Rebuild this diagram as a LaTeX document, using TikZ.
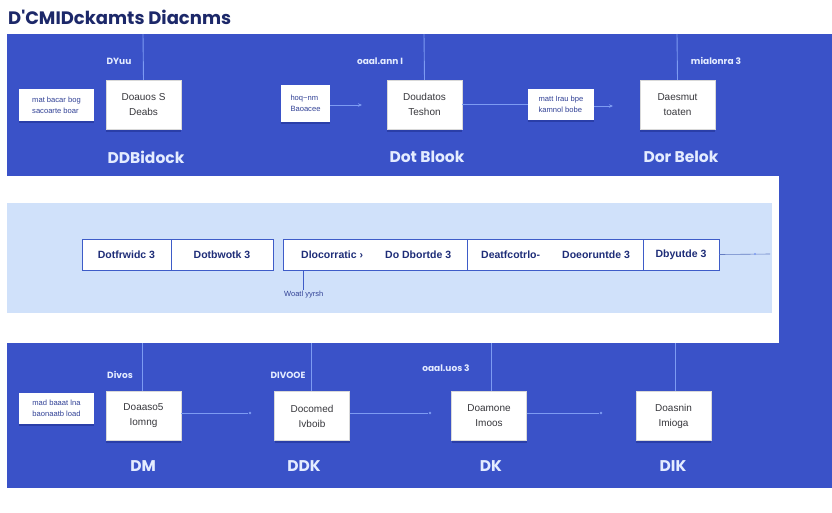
\documentclass[tikz,border=0pt]{standalone}
\usepackage{fontspec}
\setmainfont{Liberation Sans}
\newfontfamily\pop{Poppins}
\usetikzlibrary{arrows.meta}
\definecolor{bandblue}{RGB}{58,82,200}
\definecolor{shadowblue}{RGB}{42,62,168}
\definecolor{lightband}{RGB}{208,225,250}
\definecolor{titlecol}{RGB}{28,40,105}
\definecolor{linecol}{RGB}{125,155,242}
\definecolor{cellborder}{RGB}{62,92,200}
\definecolor{celltext}{RGB}{30,45,120}
\definecolor{labcol}{RGB}{228,236,255}
\definecolor{boxtext}{RGB}{55,55,60}
\definecolor{smalltext}{RGB}{50,66,150}
\tikzset{
  bigbox/.style={fill=white, draw=white!85!black, line width=0.3pt, minimum width=75pt, minimum height=49pt,
    inner sep=1pt, align=center, font=\fontsize{10}{13}\selectfont, text=boxtext,
    preaction={fill=shadowblue, transform canvas={yshift=-2.5pt}}},
  notebox/.style={fill=white, minimum height=31pt, inner sep=2pt, align=left,
    font=\fontsize{7.6}{11}\selectfont, text=smalltext,
    preaction={fill=shadowblue, transform canvas={yshift=-2pt}}},
  blocklab/.style={font=\pop\bfseries\fontsize{15.5}{18}\selectfont, text=labcol},
  toplab/.style={font=\pop\bfseries\fontsize{9}{11}\selectfont, text=labcol},
  conn/.style={draw=linecol, line width=0.9pt},
  cell/.style={draw=cellborder, line width=0.9pt, fill=white, minimum height=31pt, inner sep=0pt,
    font=\bfseries\fontsize{10.5}{12}\selectfont, text=celltext},
  celltxt/.style={inner sep=0pt, anchor=west, font=\bfseries\fontsize{10.5}{12}\selectfont, text=celltext},
  enddot/.style={circle, fill=linecol, inner sep=0pt, minimum size=2.8pt}
}
\begin{document}
\begin{tikzpicture}[x=1pt,y=-1pt]
\useasboundingbox (0,0) rectangle (832,512);
\fill[white] (0,0) rectangle (832,512);
% backgrounds
\fill[bandblue] (7,34) rectangle (832,488);
\fill[white] (7,176) rectangle (779,343);
\fill[lightband] (7,203) rectangle (772,313);
% title
\node[anchor=west, font=\pop\bfseries\fontsize{18}{21}\selectfont, text=titlecol, inner sep=0pt] (title) at (8,17) {D'CMIDckamts Diacnms};

% ---------- top band ----------
\node[notebox, minimum width=75pt, minimum height=32pt] (tn1) at (56.5,105) {mat bacar bog\\sacoarte boar};
\node[bigbox] (tb1) at (143.5,104.5) {Doauos S\\[2pt]Deabs};
\node[notebox, minimum width=49pt, minimum height=37pt] (tn2) at (305.5,103.5) {hoq\textasciitilde nm\\Baoacee};
\node[bigbox] (tb2) at (424.5,104.5) {Doudatos\\[2pt]Teshon};
\node[notebox, minimum width=66pt, minimum height=31pt] (tn3) at (561,104.5) {matt Irau bpe\\kamnol bobe};
\node[bigbox] (tb3) at (677.5,104.5) {Daesmut\\[2pt]toaten};

\coordinate (tt1) at (143,34);
\coordinate (tt2) at (424,34);
\coordinate (tt3) at (677,34);
\draw[conn] (tt1) -- (tb1.north);
\draw[conn] (tt2) -- (tb2.north);
\draw[conn] (tt3) -- (tb3.north);

\coordinate (ta1) at (362,105);
\coordinate (ta3) at (613,106);
\draw[conn, -{Stealth[length=4pt,width=3.5pt]}] (tn2.east |- ta1) -- (ta1);
\draw[conn] (tb2.east) -- (tn3.west);
\draw[conn, -{Stealth[length=4pt,width=3.5pt]}] (tn3.east |- ta3) -- (ta3);

\node[toplab] (tl1) at (119,61) {DYuu};
\node[toplab] (tl2) at (380,61) {oaal.ann I};
\node[toplab] (tl3) at (716,61) {mialonra 3};

\node[blocklab] (bl1) at (146,157) {DDBidock};
\node[blocklab] (bl2) at (427,157) {Dot Blook};
\node[blocklab] (bl3) at (681,157) {Dor Belok};

% ---------- middle band ----------
\node[cell, minimum width=89pt] (c1) at (126.5,254.5) {Dotfrwidc 3};
\node[cell, minimum width=102pt] (c2) at (222,254.5) {Dotbwotk 3};
\node[cell, minimum width=184pt] (c3) at (375,254.5) {};
\node[cell, minimum width=176pt] (c4) at (555,254.5) {};
\node[cell, minimum width=76pt] (c5) at (681,254.5) {Dbyutde 3};
\node[celltxt] (c3a) at (301,254.5) {Dlocorratic ›};
\node[celltxt] (c3b) at (385,254.5) {Do Dbortde 3};
\node[celltxt] (c4a) at (481,254.5) {Deatfcotrlo-};
\node[celltxt] (c4b) at (562,254.5) {Doeoruntde 3};
\coordinate (mr) at (770,254);
\draw[line width=0.6pt, draw=linecol!80!black] (c5.east) -- (mr);
\node[enddot, minimum size=2.2pt] (md) at (755,254) {};

\coordinate (mv) at (303,290);
\draw[line width=0.8pt, draw=cellborder] (c3.south -| mv) -- (mv);
\node[anchor=north west, inner sep=0pt, font=\fontsize{7.5}{8}\selectfont, text=smalltext] (ml) at (284,291) {Woatl yyrsh};

% ---------- bottom band ----------
\node[notebox, minimum width=75pt, minimum height=31pt] (bn1) at (56.5,408.5) {mad baaat lna\\baonaatb load};
\node[bigbox] (bb1) at (143.5,416) {Doaaso5\\[2pt]Iomng};
\node[bigbox] (bb2) at (312,416) {Docomed\\[2pt]Ivboib};
\node[bigbox] (bb3) at (489,416) {Doamone\\[2pt]Imoos};
\node[bigbox] (bb4) at (673.5,416) {Doasnin\\[2pt]Imioga};

\coordinate (bt1) at (142,343);
\coordinate (bt2) at (311,343);
\coordinate (bt3) at (491,343);
\coordinate (bt4) at (675,343);
\draw[conn] (bt1) -- (bt1 |- bb1.north);
\draw[conn] (bt2) -- (bt2 |- bb2.north);
\draw[conn] (bt3) -- (bt3 |- bb3.north);
\draw[conn] (bt4) -- (bt4 |- bb4.north);

\node[enddot] (bd1) at (250,413) {};
\node[enddot] (bd2) at (430,413) {};
\node[enddot] (bd3) at (601,413) {};
\draw[conn] (bb1.east |- bd1) -- (bd1);
\draw[conn] (bb2.east |- bd2) -- (bd2);
\draw[conn] (bb3.east |- bd3) -- (bd3);

\node[toplab] (bl1t) at (120,375) {Divos};
\node[toplab] (bl2t) at (288,375) {DIVOOE};
\node[toplab] (bl3t) at (446,368) {oaal.uos 3};

\node[blocklab] (bm1) at (143,466) {DM};
\node[blocklab] (bm2) at (304,466) {DDK};
\node[blocklab] (bm3) at (491,466) {DK};
\node[blocklab] (bm4) at (673,466) {DIK};
\end{tikzpicture}
\end{document}
